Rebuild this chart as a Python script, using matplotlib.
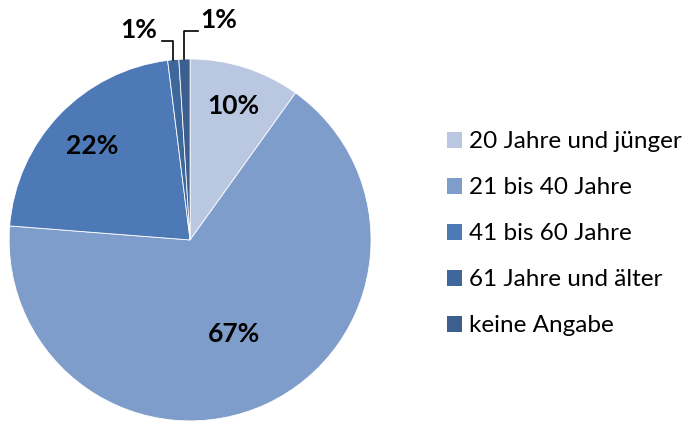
import numpy as np
import matplotlib
matplotlib.use('Agg')
import matplotlib.pyplot as plt
from matplotlib.patches import Patch

plt.rcParams['font.family'] = ['Lato', 'DejaVu Sans']

categories = ['20 Jahre und jünger', '21 bis 40 Jahre', '41 bis 60 Jahre',
              '61 Jahre und älter', 'keine Angabe']
values = [10, 67, 22, 1, 1]
colors = ['#b9c7e1', '#7f9dca', '#4d79b6', '#3e679c', '#3c5f90']

fig = plt.figure(figsize=(6.86, 4.22), dpi=100)
ax = fig.add_axes([0, 0, 1, 1])

wedges, _ = ax.pie(values, colors=colors, startangle=90, counterclock=False,
                   radius=1.0, wedgeprops=dict(edgecolor='white', linewidth=0.6))

ax.set_xlim(-1.05, 2.74)
ax.set_ylim(-1.006, 1.326)
ax.set_aspect('equal')
ax.axis('off')

def mid(w):
    return np.deg2rad((w.theta1 + w.theta2) / 2)

# labels inside the big slices
dist = [0.78, 0.575, 0.75]
for i in range(3):
    a = mid(wedges[i])
    ax.text(dist[i] * np.cos(a), dist[i] * np.sin(a), '%d%%' % values[i],
            ha='center', va='center', fontsize=19, fontweight='bold')

# small slices with leader lines
a3 = mid(wedges[3])
x3 = np.cos(a3)
ax.plot([-0.155, x3, x3], [1.099, 1.099, np.sin(a3)], color='black', lw=1.2)
ax.text(-0.285, 1.16, '%d%%' % values[3], ha='center', va='center',
        fontsize=19, fontweight='bold')

a4 = mid(wedges[4])
x4 = np.cos(a4)
ax.plot([0.044, x4, x4], [1.155, 1.155, np.sin(a4)], color='black', lw=1.2)
ax.text(0.055, 1.215, '%d%%' % values[4], ha='left', va='center',
        fontsize=19, fontweight='bold')

handles = [Patch(facecolor=c, edgecolor='none') for c in colors]
ax.legend(handles, categories, loc='center left', bbox_to_anchor=(0.6516, 0.446),
          frameon=False, fontsize=17.5, handlelength=0.62, handleheight=0.62,
          handletextpad=0.3, labelspacing=1.03, borderpad=0, borderaxespad=0)

fig.savefig('out.png', dpi=100)
